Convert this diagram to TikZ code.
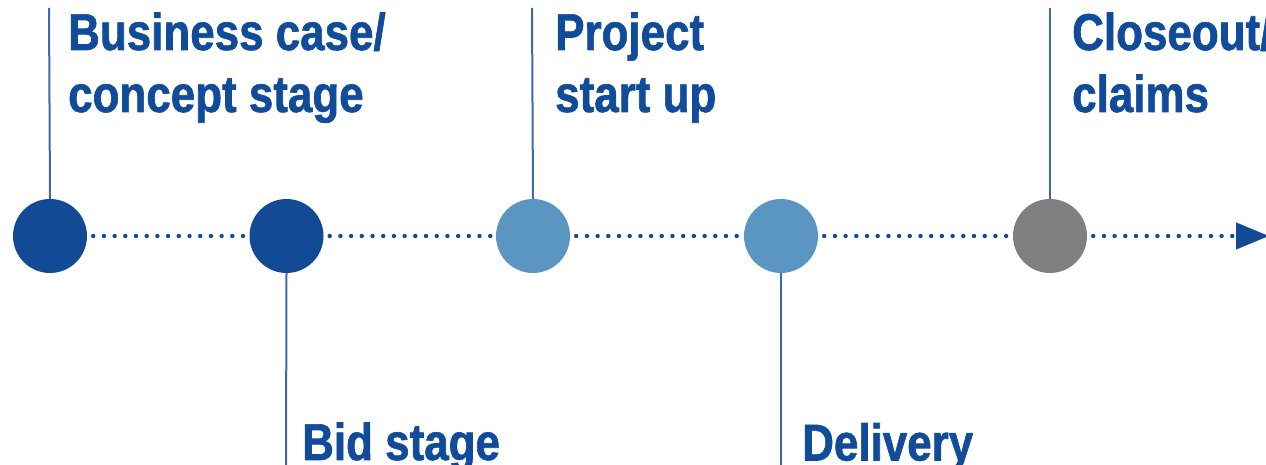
\documentclass[tikz,border=0pt]{standalone}
\usepackage{fontspec}
\setmainfont{Liberation Sans}[FakeStretch=0.85]
\usetikzlibrary{arrows.meta}
\definecolor{txtblue}{HTML}{104C9A}
\definecolor{darkdot}{HTML}{124A96}
\definecolor{lightdot}{HTML}{5B96C2}
\definecolor{greydot}{HTML}{808083}
\definecolor{stemblue}{HTML}{3D69AE}
\tikzset{
  stage/.style={circle, minimum size=74pt, inner sep=0pt, draw=none},
  stem/.style={draw=stemblue, line width=2pt},
  dotline/.style={draw=darkdot, line width=4.4pt, line cap=round, dash pattern=on 0pt off 10.7pt},
  label/.style={inner sep=0pt, align=left, text=txtblue, font=\addfontfeature{FakeBold=1.2}\bfseries\fontsize{51.7}{62}\selectfont}
}
\begin{document}
\begin{tikzpicture}[x=1pt,y=1pt]
\useasboundingbox (0,0) rectangle (1266,465);
\node[stage, fill=darkdot] (s1) at (50,229) {};
\node[stage, fill=darkdot] (s2) at (286.5,229) {};
\node[stage, fill=lightdot] (s3) at (533,229) {};
\node[stage, fill=lightdot] (s4) at (781,229) {};
\node[stage, fill=greydot] (s5) at (1050,229) {};
\coordinate (end) at (1269,229);
\coordinate (t1) at (49,457);
\coordinate (b2) at (286,0);
\coordinate (t3) at (532,457);
\coordinate (b4) at (781,0);
\coordinate (t5) at (1050,457);
\draw[stem] (t1) -- (s1.north);
\draw[stem] (s2.south) -- (b2);
\draw[stem] (t3) -- (s3.north);
\draw[stem] (s4.south) -- (b4);
\draw[stem] (t5) -- (s5.north);
\draw[dotline] ([xshift=6pt]s1.east) -- ([xshift=-3pt]s2.west);
\draw[dotline] ([xshift=6pt]s2.east) -- ([xshift=-3pt]s3.west);
\draw[dotline] ([xshift=6pt]s3.east) -- ([xshift=-3pt]s4.west);
\draw[dotline] ([xshift=6pt]s4.east) -- ([xshift=-3pt]s5.west);
\draw[dotline, -{Triangle[length=33pt,width=26pt,fill=darkdot]}] ([xshift=6pt]s5.east) -- (end);
\node[label, anchor=base west] (l1) at (68,353) {Business case/\\concept stage};
\node[label, anchor=base west] (l2) at (302,5) {Bid stage};
\node[label, anchor=base west] (l3) at (555,353) {Project\\start up};
\node[label, anchor=base west] (l4) at (802,4.5) {Delivery};
\node[label, anchor=base west] (l5) at (1072,353) {Closeout/\\claims};
\end{tikzpicture}
\end{document}
